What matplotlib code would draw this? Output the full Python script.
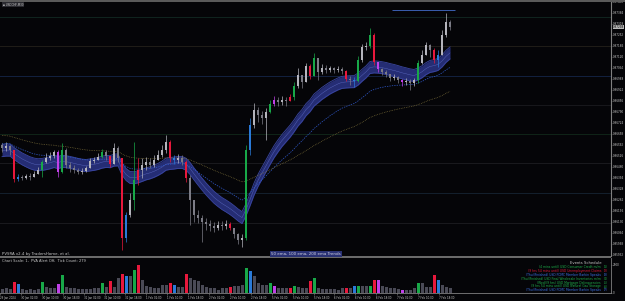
import numpy as np
import matplotlib.pyplot as plt
from matplotlib.patches import Rectangle
from matplotlib.transforms import blended_transform_factory

# ======================================================
# DATA  (prices in points = 1e-5, volume in ticks)
# ======================================================
symbol = "USDCHF,M30"
first_open = 86590

close_pts = [
    86572, 86584, 86560, 86386, 86398, 86392, 86404, 86398, 86416, 86440,
    86488, 86512, 86524, 86548, 86428, 86560, 86470, 86452, 86440, 86428,
    86434, 86452, 86494, 86500, 86518, 86548, 86524, 86476, 86572, 86512,
    86032, 86170, 86260, 86380, 86440, 86470, 86488, 86470, 86500, 86530,
    86560, 86608, 86512, 86500, 86512, 86488, 86392, 86260, 86170, 86152,
    86128, 86116, 86104, 86092, 86110, 86104, 86116, 86092, 86056, 86020,
    86032, 86560, 86710, 86800, 86770, 86752, 86788, 86836, 86860, 86848,
    86860, 86854, 86878, 86944, 87010, 86968, 87064, 87004, 87112, 87028,
    87052, 87040, 87052, 87040, 87046, 87034, 86986, 86980, 86974, 87100,
    87178, 87184, 87250, 87088, 87046, 87028, 87016, 86992, 86998, 86980,
    86968, 86974, 86962, 86980, 87082, 87130, 87190, 87160, 87100, 87130,
    87250, 87328, 87298]

high_pts = [
    86602, 86608, 86590, 86560, 86416, 86410, 86416, 86422, 86434, 86458,
    86500, 86542, 86548, 86560, 86560, 86602, 86572, 86488, 86470, 86452,
    86452, 86464, 86512, 86518, 86542, 86566, 86560, 86512, 86602, 86584,
    86500, 86188, 86302, 86608, 86512, 86512, 86518, 86512, 86530, 86560,
    86590, 86650, 86620, 86530, 86536, 86530, 86500, 86410, 86242, 86200,
    86170, 86152, 86140, 86128, 86134, 86134, 86140, 86128, 86086, 86062,
    86056, 86590, 86752, 86842, 86818, 86794, 86812, 86860, 86884, 86878,
    86884, 86878, 86896, 86968, 87052, 87004, 87082, 87076, 87142, 87088,
    87076, 87070, 87064, 87058, 87064, 87058, 87040, 87004, 86998, 87124,
    87196, 87208, 87292, 87262, 87088, 87052, 87040, 87016, 87016, 87004,
    86986, 86992, 86986, 86992, 87100, 87160, 87208, 87196, 87172, 87160,
    87280, 87382, 87340]

low_pts = [
    86548, 86554, 86530, 86368, 86374, 86380, 86386, 86380, 86398, 86416,
    86398, 86482, 86500, 86512, 86398, 86422, 86452, 86428, 86422, 86416,
    86416, 86428, 86470, 86482, 86500, 86512, 86500, 86458, 86500, 86488,
    85960, 86008, 86158, 86200, 86350, 86392, 86440, 86452, 86458, 86500,
    86518, 86542, 86488, 86476, 86482, 86470, 86368, 86110, 86128, 86122,
    86008, 86080, 86074, 86068, 86080, 86080, 86086, 86080, 86032, 85996,
    85978, 86020, 86530, 86692, 86728, 86716, 86620, 86782, 86824, 86824,
    86830, 86824, 86854, 86860, 86932, 86932, 86980, 86986, 87040, 86980,
    87016, 87022, 87028, 87022, 87028, 87016, 86974, 86950, 86938, 86968,
    87088, 87160, 87172, 87070, 87028, 87010, 86998, 86974, 86980, 86962,
    86944, 86950, 86920, 86944, 86962, 87076, 87130, 87118, 87082, 87058,
    87172, 87238, 87280]

volume = [
    400, 500, 400, 1100, 900, 400, 300, 400, 300, 400,
    1100, 600, 500, 500, 900, 1800, 600, 500, 500, 400,
    400, 400, 400, 500, 500, 1000, 600, 1200, 600, 1500,
    1900, 1700, 1700, 2300, 2800, 1300, 700, 600, 500, 500,
    800, 800, 1000, 800, 600, 600, 1900, 1500, 1300, 1200,
    800, 600, 500, 500, 300, 500, 500, 600, 700, 700,
    800, 2500, 2200, 1700, 1000, 800, 800, 1000, 700, 500,
    500, 500, 500, 700, 600, 500, 500, 1200, 1500, 500,
    400, 400, 400, 400, 300, 500, 500, 500, 700, 700,
    700, 700, 700, 1300, 1300, 700, 600, 500, 500, 400,
    300, 300, 300, 500, 1000, 1000, 600, 600, 1800, 1300,
    800, 600, 500]

# PVA climax / rising volume candles
pva = {3: 'r', 4: 'b', 10: 'g', 14: 'm', 15: 'g', 25: 'g', 27: 'r', 30: 'r',
       31: 'b', 33: 'g', 34: 'r', 42: 'r', 43: 'b', 46: 'r', 57: 'r', 61: 'g',
       62: 'b', 67: 'g', 68: 'm', 72: 'r', 73: 'g', 77: 'r', 78: 'g', 86: 'r',
       88: 'b', 89: 'g', 92: 'g', 93: 'r', 94: 'm', 100: 'm', 104: 'g',
       108: 'r', 109: 'b'}

# EMA seeds (value at chart left) and spans in chart bars
ema_seed = {50: 86554, 100: 86602, 200: 86650}
ema_span = {50: 16, 100: 33, 200: 66}

level_prices = [87358, 87184, 87004, 86830, 86656, 86482, 86302, 86122]
level_colors = ['#10241f', '#201d18', '#132140', '#18181c',
                '#102418', '#1a1a1e', '#14202e', '#1a1a1e']
target_line = (87400, 97.5, 113.3)

time_labels = ["29 Jan 2024", "30 Jan 02:00", "30 Jan 10:00", "30 Jan 18:00",
               "31 Jan 02:00", "31 Jan 10:00", "31 Jan 18:00", "1 Feb 02:00",
               "1 Feb 10:00", "1 Feb 18:00", "2 Feb 02:00", "2 Feb 10:00",
               "2 Feb 18:00", "5 Feb 02:00", "5 Feb 10:00", "5 Feb 18:00",
               "6 Feb 02:00", "6 Feb 10:00", "6 Feb 18:00", "7 Feb 02:00",
               "7 Feb 10:00", "7 Feb 18:00"]

events = [
    ("(4 mins until) USD Consumer Credit m/m", "(1)", '#1fb04a'),
    ("(9 hrs 54 mins until) USD Unemployment Claims", "(2)", '#e01a3a'),
    ("(Thu)(Finished) USD FOMC Member Barkin Speaks", "(3)", '#3a6ee0'),
    ("(Thu)(Finished) USD Final Wholesale Inventories m/m", "(4)", '#1fb04a'),
    ("(Wed)(9 hrs) USD Mortgage Delinquencies", "(5)", '#1fb04a'),
    ("(9 hrs 54 mins until) USD Natural Gas Storage", "(6)", '#1fb04a'),
    ("(Thu)(Finished) USD FOMC Member Barkin Speaks", "(7)", '#3a6ee0'),
]

# ======================================================
# STYLE
# ======================================================
W, H, DPI = 625, 301, 100
BG = '#050508'
pva_colors = {'r': '#e8183c', 'g': '#18a848', 'b': '#2a7ad8', 'm': '#c040e8'}
up_col, dn_col = '#b4b4bc', '#7c7c86'
vol_gray = '#4a4a56'
txt_col = '#c8c8c8'
fs = 2.0


def ema(values, span, seed):
    alpha = 2.0 / (span + 1)
    out, e = [], seed
    for v in values:
        e = e + alpha * (v - e)
        out.append(e)
    return np.array(out)


def fx(px):
    return px / W


def fy(py):
    return 1 - py / H


close = np.array(close_pts) / 1e5
high = np.array(high_pts) / 1e5
low = np.array(low_pts) / 1e5
opn = np.concatenate([[first_open / 1e5], close[:-1]])
n = len(close)
idx = np.arange(n)
xlim = (-0.5, 152.25)

fig = plt.figure(figsize=(W / DPI, H / DPI), dpi=DPI, facecolor=BG)

# ---------------- main price panel ----------------
ax = fig.add_axes([0, 1 - 256 / H, 611 / W, 256 / H], facecolor=BG)
ax.set_xlim(*xlim)
ax.set_ylim(0.85924, 0.87460)

for lp, lc in zip(level_prices, level_colors):
    ax.axhline(lp / 1e5, color=lc, lw=0.7, zorder=1)
ax.hlines(target_line[0] / 1e5, target_line[1], target_line[2],
          color='#3a5eb0', lw=0.7, zorder=2)

e50 = ema(close_pts, ema_span[50], ema_seed[50]) / 1e5
e100 = ema(close_pts, ema_span[100], ema_seed[100]) / 1e5
e200 = ema(close_pts, ema_span[200], ema_seed[200]) / 1e5
hw = 0.00036
ax.fill_between(idx, e50 - hw, e50 + hw, color='#252d74', lw=0, zorder=3)
ax.plot(idx, e50 + hw, color='#3a46a0', lw=0.6, zorder=3)
ax.plot(idx, e50 - hw, color='#3a46a0', lw=0.6, zorder=3)
ax.plot(idx, e50, color='#5a68c0', lw=0.3, zorder=3)
ax.plot(idx, e100, color='#2f58c8', lw=0.5, ls=(0, (2, 1.5)), zorder=4)
ax.plot(idx, e200, color='#8a7c40', lw=0.5, ls=(0, (1, 1.5)), zorder=4)

for i in range(n):
    if i in pva:
        c = pva_colors[pva[i]]
    else:
        c = up_col if close[i] >= opn[i] else dn_col
    top = max(high[i], opn[i], close[i])
    bot = min(low[i], opn[i], close[i])
    ax.vlines(i, bot, top, color=c, lw=0.5, zorder=5)
    b0, b1 = sorted([opn[i], close[i]])
    ax.add_patch(Rectangle((i - 0.3, b0), 0.6, max(b1 - b0, 0.00002),
                           facecolor=c, edgecolor='none', zorder=6))

ax.yaxis.tick_right()
ticks = np.arange(85932, 87460, 66) / 1e5
ax.set_yticks(ticks)
ax.set_yticklabels([f"{t:.5f}" for t in ticks])
ax.tick_params(axis='y', labelsize=fs, colors=txt_col, length=1.0, width=0.4,
               pad=0.4, color='#808080')
ax.set_xticks([])
for s in ['top', 'left', 'bottom']:
    ax.spines[s].set_visible(False)
ax.spines['right'].set_color('#808080')
ax.spines['right'].set_linewidth(0.8)

trans = blended_transform_factory(ax.transAxes, ax.transData)
ax.text(1.003, close[-1], f"{close[-1]:.5f}", transform=trans, fontsize=fs,
        color='#000000', va='center', ha='left', zorder=10,
        bbox=dict(boxstyle='square,pad=0.1', fc='#b8b8b8', ec='none'),
        clip_on=False)

# ---------------- volume panel ----------------
vax = fig.add_axes([0, 1 - 293 / H, 611 / W, 35 / H], facecolor=BG)
vax.set_xlim(*xlim)
vax.set_ylim(0, 3500)
vcols = [pva_colors[pva[i]] if i in pva else vol_gray for i in range(n)]
vax.bar(idx, volume, width=0.75, color=vcols, lw=0)
vax.yaxis.tick_right()
vax.set_yticks([0, max(volume)])
vax.set_yticklabels(["0", str(max(volume))])
vax.tick_params(axis='y', labelsize=fs, colors=txt_col, length=1.0, width=0.4,
                pad=0.4, color='#808080')
tpos = -0.5 + np.arange(len(time_labels)) * 5.225
vax.set_xticks(tpos)
vax.set_xticklabels(time_labels)
vax.tick_params(axis='x', labelsize=1.9, colors=txt_col, length=1.2, width=0.4,
                pad=0.8, color='#808080')
for lab in vax.get_xticklabels():
    lab.set_ha('left')
for s in ['top', 'left']:
    vax.spines[s].set_visible(False)
for s in ['right', 'bottom']:
    vax.spines[s].set_color('#808080')
    vax.spines[s].set_linewidth(0.6)

# ---------------- frame & texts ----------------
fig.patches.append(Rectangle((0, fy(1.5)), 1, 1.5 / H, transform=fig.transFigure,
                             facecolor='#5a5a5a', edgecolor='none'))
fig.patches.append(Rectangle((0, fy(258)), 611 / W, 2 / H, transform=fig.transFigure,
                             facecolor='#6a6a6a', edgecolor='none'))

fig.text(fx(3), fy(4.5), "\u25aa " + symbol, fontsize=fs, color=txt_col,
         va='center', ha='left',
         bbox=dict(boxstyle='square,pad=0.2', fc='#2a2a30', ec='none'))
fig.text(fx(2), fy(253.5), "PVSRA v2.4 by TradersHome, et al.", fontsize=2.8,
         color=txt_col, va='center', ha='left')
fig.text(fx(306), fy(254), "50 ema, 100 ema, 200 ema Trends", fontsize=2.9,
         color='#d0d0e0', va='center', ha='center',
         bbox=dict(boxstyle='square,pad=0.3', fc='#2a3275', ec='none'))
fig.text(fx(2), fy(261.5), "Chart Scale: 1,  PVA Alert Off,  Tick Count: 279",
         fontsize=2.6, color=txt_col, va='center', ha='left')

fig.text(fx(602), fy(263), "Events Schedule", fontsize=2.7, color=txt_col,
         va='center', ha='right')
for k, (label, num, col) in enumerate(events):
    yy = 267.5 + k * 3.8
    fig.text(fx(601), fy(yy), label, fontsize=2.2, color=col, va='center', ha='right')
    fig.text(fx(603.5), fy(yy), num, fontsize=2.2, color=col, va='center', ha='left')

fig.savefig("out.png", dpi=DPI, facecolor=BG)
